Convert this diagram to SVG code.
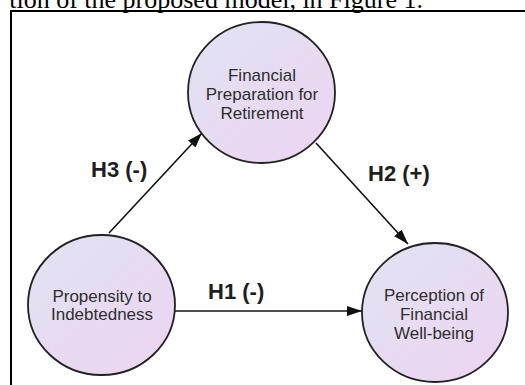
<svg xmlns="http://www.w3.org/2000/svg" width="525" height="385" viewBox="0 0 525 385">
<style>
.node{stroke:#222;stroke-width:1.8;fill:url(#g)}
.nt{font-family:"Liberation Sans",Arial,sans-serif;font-size:17px;fill:#2e2e2e;text-anchor:middle}
.lb{font-family:"Liberation Sans",Arial,sans-serif;font-size:22px;font-weight:bold;fill:#1e1e1e}
.edge{stroke:#111;stroke-width:1.6;fill:none;marker-end:url(#ah)}
</style>
<defs>
<linearGradient id="g" x1="0" y1="0" x2="1" y2="1">
<stop offset="0" stop-color="#e1e3f3"/>
<stop offset="1" stop-color="#edd4f1"/>
</linearGradient>
<marker id="ah" markerUnits="userSpaceOnUse" markerWidth="16" markerHeight="12" refX="15" refY="5" orient="auto">
<path d="M0,0 L15,5 L0,10 Z" fill="#111"/>
</marker>
</defs>
<rect width="525" height="385" fill="#fff"/>
<text x="423" y="7.5" font-family="'Liberation Serif','Times New Roman',serif" font-size="26" text-anchor="end" fill="#000">tion of the proposed model, in Figure 1.</text>
<path d="M11,385 V11 H525" stroke="#000" stroke-width="2" fill="none"/>
<g id="connectors">
<line class="edge" x1="109" y1="233" x2="202" y2="133"/>
<line class="edge" x1="316" y1="143" x2="408" y2="244"/>
<line class="edge" x1="175" y1="311" x2="362" y2="311"/>
</g>
<g id="labels">
<text class="lb" x="91" y="177">H3 (-)</text>
<text class="lb" x="368" y="181">H2 (+)</text>
<text class="lb" x="208" y="299">H1 (-)</text>
</g>
<g id="financial-preparation">
<ellipse class="node" cx="261.5" cy="92.5" rx="73.5" ry="70.5"/>
<text class="nt" x="262" y="81">Financial</text>
<text class="nt" x="262" y="100">Preparation for</text>
<text class="nt" x="262" y="119">Retirement</text>
</g>
<g id="propensity">
<ellipse class="node" cx="101.5" cy="305" rx="73.5" ry="70"/>
<text class="nt" x="102" y="302">Propensity to</text>
<text class="nt" x="102" y="320">Indebtedness</text>
</g>
<g id="perception">
<ellipse class="node" cx="435" cy="312.5" rx="73" ry="69.5"/>
<text class="nt" x="434" y="301">Perception of</text>
<text class="nt" x="434" y="320">Financial</text>
<text class="nt" x="434" y="339">Well-being</text>
</g>
</svg>
